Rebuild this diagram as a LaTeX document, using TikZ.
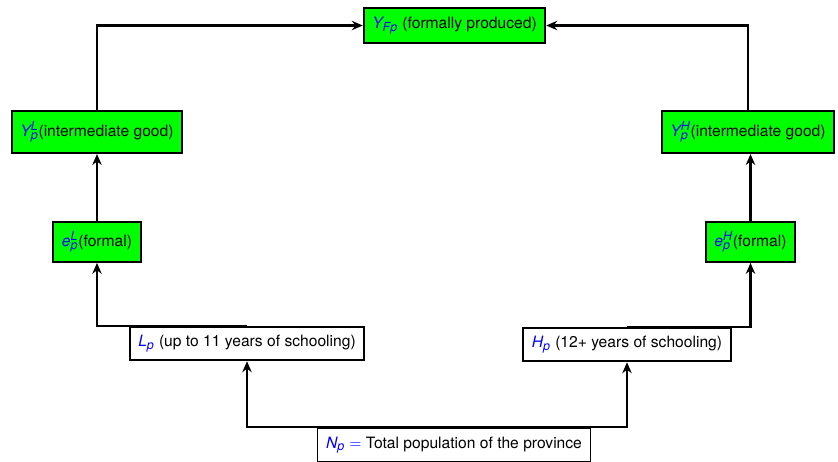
\documentclass[tikz,border=0pt]{standalone}
\usepackage{fontspec}
\setmainfont{TeX Gyre Heros}
\usetikzlibrary{arrows.meta}
\DeclareMathSizes{10}{10}{8}{6}

% blue variables
\newcommand{\pvar}[1]{\textcolor{blue}{$#1$}}

\tikzset{
  box/.style={draw=black, line width=1.2pt, fill=white, inner xsep=5.5pt,
    minimum height=21.5pt, text=black},
  gbox/.style={box, fill=green},
  link/.style={line width=1.3pt, -{Stealth[length=7pt,width=6pt]}}
}

\begin{document}
\begin{tikzpicture}[x=0.64pt, y=-0.64pt]
\useasboundingbox (0,0) rectangle (838,461);
\clip (0,0) rectangle (838,461);

% Final output
\node[gbox, minimum height=22.5pt] (Yf) at (454.5,25.5) {\pvar{\mathit{Y}_{\mathit{Fp}}} (formally produced)};

% Intermediate goods
\node[gbox, minimum height=27pt] (YL) at (97,132) {\pvar{\mathit{Y}^{\mathit{L}}_{\mathit{p}}}(intermediate good)};
\node[gbox, minimum height=27pt] (YH) at (748,132) {\pvar{\mathit{Y}^{\mathit{H}}_{\mathit{p}}}(intermediate good)};

% Formal employment
\node[gbox, minimum height=25.5pt] (eL) at (97,242) {\pvar{\mathit{e}^{\mathit{L}}_{\mathit{p}}}(formal)};
\node[gbox, minimum height=25.5pt] (eH) at (750.5,242) {\pvar{\mathit{e}^{\mathit{H}}_{\mathit{p}}}(formal)};

% Skill groups
\node[box] (Lp) at (247,343.5) {\pvar{\mathit{L}_{\mathit{p}}} (up to 11 years of schooling)};
\node[box] (Hp) at (627,344.5) {\pvar{\mathit{H}_{\mathit{p}}} (12+ years of schooling)};

% Population
\node[box] (Np) at (454,445) {\pvar{\mathit{N}_{\mathit{p}} =} Total population of the province};

% Connectors
\draw[link] (Np.north) -| (Lp.south);
\draw[link] (Np.north) -| (Hp.south);
\draw[link] (Lp.north) -| (eL.south);
\draw[link] (Hp.north) -| (eH.south);
\draw[link] (eL.north) -- (YL.south);
\draw[link] (eH.north) -- (eH.north |- YH.south);
\draw[link] (YL.north) |- (Yf.west);
\draw[link] (YH.north) |- (Yf.east);
\end{tikzpicture}
\end{document}
